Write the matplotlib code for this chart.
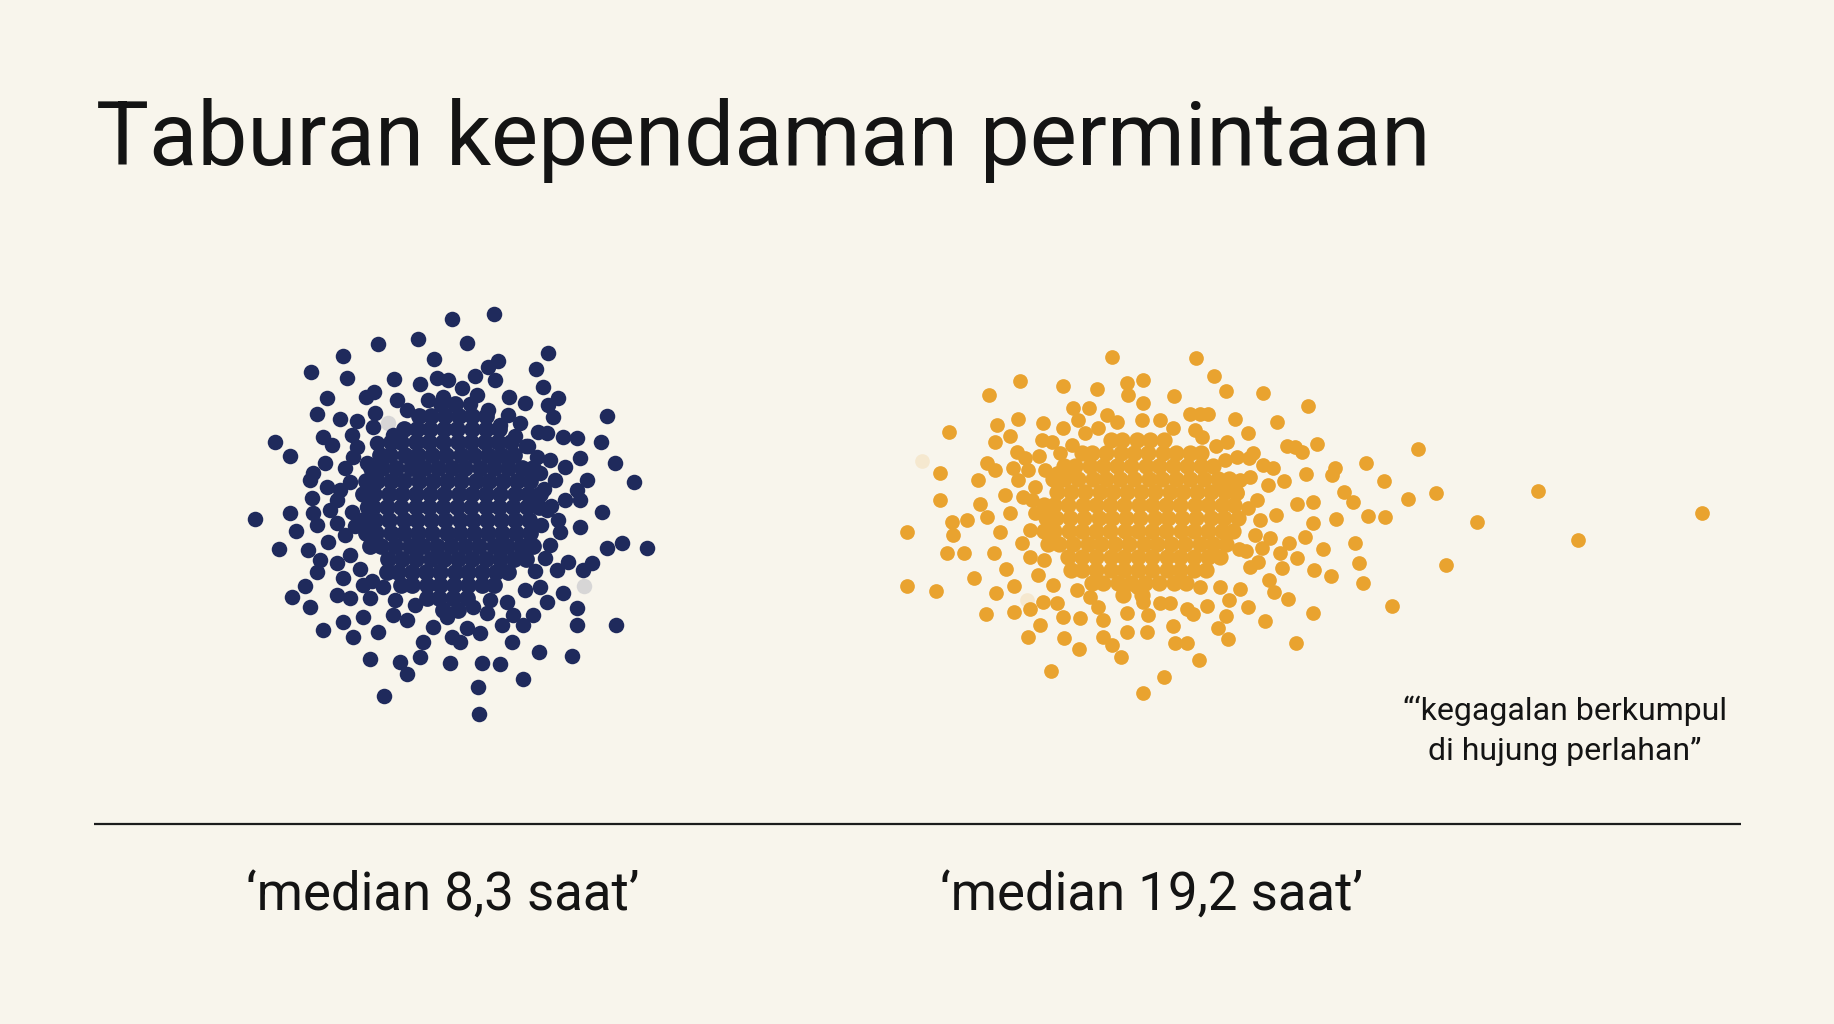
import numpy as np
import matplotlib.pyplot as plt

plt.rcParams['font.family'] = ['Roboto', 'DejaVu Sans']

W, H = 1834, 1024
BG = '#f8f5ec'
NAVY = '#1f2a5c'
AMBER = '#e9a32f'
INK = '#141414'

title = "Taburan kependaman permintaan"
labels = ["‘median 8,3 saat’", "‘median 19,2 saat’"]
label_x = [443, 1152]
note_lines = ["“‘kegagalan berkumpul", "di hujung perlahan”"]

# fast requests: loose dots around the edge of the cloud (x, y in canvas px)
fast_edge = [
    (452, 319), (378, 344), (418, 339), (343, 356), (434, 359), (311, 372), (347, 378),
    (394, 379), (420, 384), (437, 378), (327, 398), (366, 397), (374, 392), (317, 414),
    (340, 419), (357, 421), (375, 413), (275, 442), (290, 456), (323, 437), (332, 445),
    (352, 435), (357, 447), (373, 427), (377, 443), (393, 435), (312, 498), (290, 513),
    (255, 519), (325, 463), (313, 473), (353, 457), (367, 463), (310, 480), (327, 487),
    (350, 482), (337, 500), (367, 507), (313, 513), (330, 510), (397, 400), (407, 410),
    (494, 314), (467, 343), (548, 353), (498, 361), (488, 367), (536, 369), (475, 376),
    (495, 380), (543, 387), (558, 398), (548, 405), (509, 397), (525, 403), (477, 395),
    (462, 388), (448, 380), (443, 397), (488, 410), (508, 415), (553, 417), (607, 416),
    (538, 432), (547, 433), (563, 437), (577, 438), (601, 442), (520, 423), (580, 458),
    (565, 467), (615, 463), (634, 482), (587, 480), (577, 490), (537, 457), (550, 460),
    (555, 480), (540, 473), (565, 500), (580, 500), (602, 512), (533, 500), (547, 510),
    (580, 527), (560, 532), (558, 520), (607, 548), (622, 543), (647, 548), (568, 562),
    (592, 563), (583, 570), (557, 570), (563, 593), (577, 608), (577, 625), (616, 625),
    (540, 587), (547, 602), (507, 602), (533, 615), (523, 625), (513, 615), (502, 625),
    (512, 642), (539, 652), (572, 656), (480, 633), (467, 628), (450, 663), (482, 663),
    (500, 664), (523, 679), (478, 687), (479, 714), (452, 637), (460, 642), (447, 617),
    (473, 607), (487, 613), (296, 531), (317, 525), (279, 549), (308, 550), (320, 560),
    (317, 572), (328, 542), (337, 523), (305, 586), (292, 597), (310, 607), (337, 595),
    (350, 598), (363, 585), (383, 587), (370, 598), (323, 630), (343, 622), (363, 617),
    (353, 637), (378, 632), (370, 659), (400, 662), (407, 674), (384, 696), (420, 657),
    (423, 642), (433, 627), (393, 615), (407, 620), (395, 600), (343, 578), (337, 563),
    (550, 545), (545, 558), (535, 571), (551, 506), (345, 535), (350, 555), (360, 569),
    (372, 581), (500, 425), (515, 436), (345, 468), (340, 490), (525, 590), (490, 600),
    (415, 605), (428, 400), (470, 404), (526, 446), (544, 489), (541, 525), (528, 446),
    (352, 512), (355, 526),
]

# fast requests: the packed middle of the cloud, row by row (y, [x...])
fast_core = [
    (404, [441, 455]),
    (416, [419, 431, 445, 459, 472, 486]),
    (429, [404, 417, 430, 444, 457, 472, 486, 499]),
    (442, [391, 401, 416, 429, 443, 458, 471, 485, 498, 511]),
    (455, [380, 390, 405, 418, 432, 446, 461, 474, 488, 501, 514]),
    (468, [371, 382, 396, 411, 424, 438, 452, 465, 480, 494, 508, 522, 533]),
    (481, [366, 377, 391, 404, 419, 433, 447, 461, 476, 489, 503, 517, 530]),
    (494, [363, 374, 389, 402, 416, 430, 444, 459, 472, 486, 500, 515, 528, 540]),
    (507, [373, 387, 401, 416, 429, 443, 457, 471, 486, 499, 513, 527, 539]),
    (520, [363, 375, 389, 404, 417, 431, 445, 460, 473, 487, 501, 515, 529]),
    (533, [366, 376, 391, 404, 418, 432, 447, 460, 474, 488, 502, 516, 530]),
    (546, [370, 381, 395, 410, 423, 437, 451, 465, 479, 494, 507, 521, 533]),
    (559, [388, 402, 416, 431, 444, 458, 472, 486, 500, 514, 526]),
    (572, [387, 398, 412, 426, 440, 455, 468, 482, 496, 508]),
    (585, [401, 412, 427, 440, 454, 468, 482, 494]),
    (598, [427, 439, 453, 467]),
    (610, [443, 458]),
]
fast_faint = [(388, 423), (584, 586)]

# slow requests: loose dots, including the long right tail
slow_edge = [
    (1112, 357), (1020, 381), (1063, 386), (1097, 389), (1127, 383), (1128, 395), (1143, 380),
    (989, 395), (1073, 408), (1089, 408), (1107, 415), (1117, 422), (1143, 403), (1142, 420),
    (1018, 419), (997, 425), (1043, 423), (1063, 428), (1078, 420), (949, 432), (1010, 436),
    (995, 442), (1042, 440), (1052, 442), (1085, 433), (1098, 428), (1072, 445), (1060, 453),
    (1017, 452), (1025, 458), (1039, 456), (987, 463), (995, 470), (1013, 468), (1018, 480),
    (940, 473), (978, 480), (1045, 470), (1057, 473), (1070, 470), (940, 500), (980, 504),
    (987, 517), (1005, 495), (1023, 497), (1035, 487), (952, 522), (967, 520), (1010, 513),
    (1035, 513), (907, 532),
    (1196, 358), (1214, 376), (1226, 391), (1263, 393), (1308, 406), (1174, 396), (1190, 414),
    (1200, 414), (1208, 414), (1235, 419), (1277, 422), (1160, 420), (1173, 428), (1195, 430),
    (1202, 437), (1248, 433), (1227, 442), (1287, 446), (1295, 447), (1302, 452), (1317, 444),
    (1253, 453), (1237, 457), (1225, 460), (1263, 465), (1273, 468), (1335, 468), (1332, 475),
    (1366, 463), (1384, 481), (1306, 474), (1284, 481), (1344, 492), (1353, 502), (1297, 504),
    (1313, 502), (1257, 500), (1276, 515), (1313, 523), (1336, 519), (1368, 516), (1385, 517),
    (1240, 480), (1250, 477), (1220, 487), (1237, 493),
    (1418, 449), (1408, 499), (1436, 493), (1477, 522), (1538, 491), (1578, 540), (1702, 513),
    (1446, 565), (1392, 606),
    (947, 553), (964, 553), (953, 535), (907, 586), (936, 591), (974, 578), (994, 553),
    (1006, 569), (996, 593), (1014, 586), (986, 614), (1014, 612), (1030, 609), (1043, 602),
    (1057, 603), (1040, 625), (1028, 637), (1063, 617), (1080, 618), (1064, 638), (1079, 649),
    (1051, 671), (1103, 637), (1112, 645), (1121, 657), (1143, 693), (1127, 632), (1103, 620),
    (1098, 607), (1127, 613), (1137, 587), (1143, 602), (1147, 632), (1022, 543), (1030, 557),
    (1038, 575), (1053, 585), (1000, 532), (1077, 590), (1090, 597),
    (1355, 543), (1359, 563), (1363, 583), (1323, 549), (1305, 537), (1289, 543), (1280, 553),
    (1297, 558), (1314, 570), (1331, 576), (1282, 568), (1270, 538), (1262, 548), (1239, 549),
    (1269, 580), (1274, 592), (1288, 599), (1313, 613), (1265, 621), (1296, 643), (1248, 607),
    (1240, 589), (1229, 600), (1226, 616), (1218, 628), (1228, 639), (1207, 606), (1187, 609),
    (1193, 614), (1173, 626), (1175, 643), (1187, 643), (1199, 660), (1164, 677), (1160, 603),
    (1148, 615), (1170, 603), (1250, 567), (1258, 562), (1220, 587), (1200, 587),
    (1260, 520), (1268, 485), (1255, 535), (1030, 530), (1028, 470),
    (1249, 458), (1248, 508), (1246, 551), (1216, 446), (1032, 500), (1044, 560),
]

slow_core = [
    (440, [1111, 1122, 1137, 1150, 1164]),
    (453, [1082, 1092, 1106, 1121, 1134, 1148, 1163, 1176, 1190, 1201]),
    (466, [1064, 1075, 1090, 1103, 1117, 1131, 1146, 1159, 1173, 1187, 1201, 1213]),
    (479, [1053, 1064, 1078, 1093, 1106, 1120, 1134, 1149, 1162, 1176, 1190, 1204, 1218, 1229]),
    (492, [1057, 1071, 1085, 1100, 1113, 1127, 1141, 1155, 1170, 1183, 1197, 1211, 1225, 1236]),
    (505, [1044, 1054, 1068, 1083, 1096, 1110, 1124, 1139, 1152, 1166, 1180, 1195, 1208, 1222, 1234]),
    (518, [1046, 1056, 1070, 1084, 1099, 1112, 1126, 1140, 1155, 1168, 1182, 1196, 1211, 1224, 1238]),
    (531, [1044, 1054, 1069, 1082, 1096, 1110, 1125, 1138, 1152, 1166, 1181, 1194, 1208, 1222, 1233]),
    (544, [1048, 1059, 1073, 1088, 1101, 1115, 1129, 1144, 1157, 1171, 1185, 1200, 1213, 1226]),
    (557, [1068, 1082, 1096, 1111, 1124, 1138, 1152, 1167, 1180, 1194, 1208, 1220]),
    (570, [1071, 1082, 1096, 1111, 1124, 1138, 1152, 1167, 1180, 1194, 1206]),
    (583, [1092, 1103, 1118, 1131, 1145, 1159, 1174, 1186]),
    (595, [1123, 1142]),
]
slow_faint = [(922, 461), (1027, 600)]


def unpack_rows(rows):
    xs, ys = [], []
    for y, row in rows:
        xs += row
        ys += [y] * len(row)
    return np.array(xs), np.array(ys)


fig = plt.figure(figsize=(W / 100, H / 100), dpi=100, facecolor=BG)
ax = fig.add_axes([0, 0, 1, 1])
ax.set_facecolor(BG)
ax.set_xlim(0, W)
ax.set_ylim(H, 0)
ax.axis('off')

# core dots a touch larger so the packed middle reads as one mass with specks
for core, edge, faint, col, s_edge, s_core in [
    (fast_core, fast_edge, fast_faint, NAVY, 125, 146),
    (slow_core, slow_edge, slow_faint, AMBER, 112, 138),
]:
    cx, cy = unpack_rows(core)
    ex, ey = np.array(edge).T
    fx, fy = np.array(faint).T
    ax.scatter(fx, fy, s=s_edge, color=col, alpha=0.15, linewidths=0)
    ax.scatter(cx, cy, s=s_core, color=col, linewidths=0)
    ax.scatter(ex, ey, s=s_edge, color=col, linewidths=0)

# baseline rule under the clouds
ax.plot([94, 1741], [824, 824], color='#1c1c1c', lw=1.6, solid_capstyle='butt')

ax.text(96, 165, title, fontsize=64, color=INK, ha='left', va='baseline')

for x, lab in zip(label_x, labels):
    ax.text(x, 911, lab, fontsize=38, color=INK, ha='center', va='baseline')

ax.text(1565, 720, note_lines[0], fontsize=23, color=INK, ha='center', va='baseline')
ax.text(1565, 760, note_lines[1], fontsize=23, color=INK, ha='center', va='baseline')

fig.savefig('out.png', dpi=100, facecolor=BG)
